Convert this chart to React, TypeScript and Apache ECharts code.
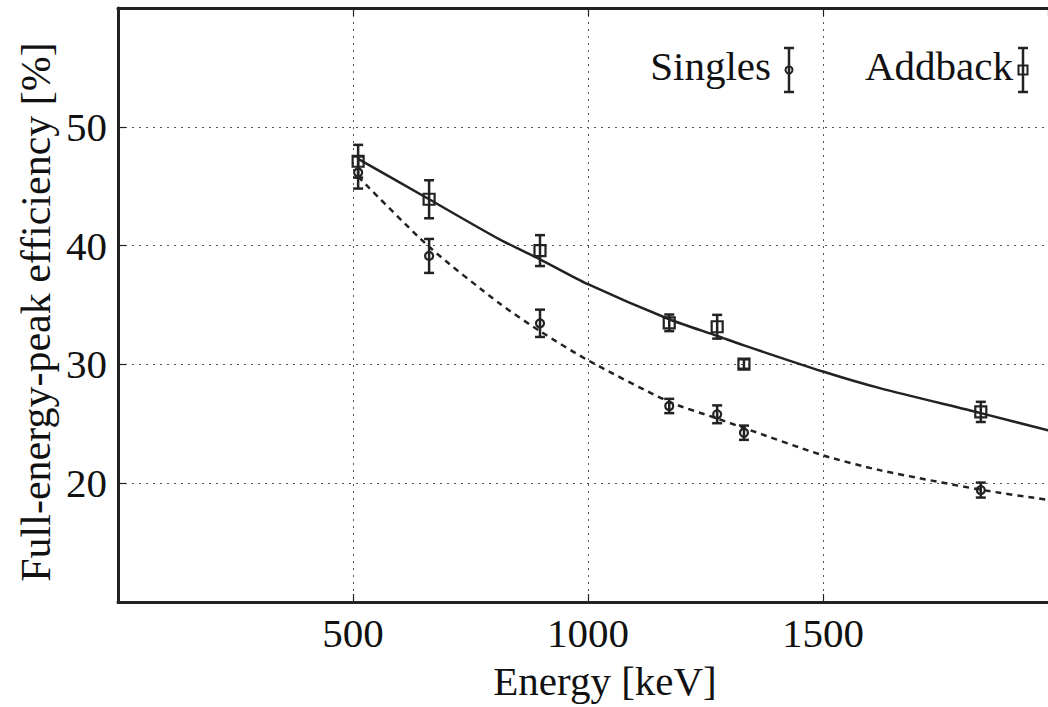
import React, { useEffect, useRef } from "react";
import * as echarts from "echarts";

const energies = [511, 662, 898, 1173, 1275, 1332, 1836];
const singlesEff = [46.15, 39.13, 33.46, 26.5, 25.8, 24.25, 19.42];
const singlesErr = [1.35, 1.43, 1.15, 0.6, 0.75, 0.6, 0.63];
const addbackEff = [47.1, 43.9, 39.58, 33.5, 33.17, 30.03, 26.0];
const addbackErr = [1.38, 1.6, 1.3, 0.7, 1.0, 0.4, 0.85];

const addbackFitE = [511, 662, 813, 898, 1000, 1173, 1275, 1332, 1500, 1621, 1836, 1979, 2000];
const addbackFit = [47.3, 43.9, 40.5, 38.85, 36.75, 33.8, 32.4, 31.6, 29.4, 28.0, 25.9, 24.45, 24.25];
const singlesFitE = [511, 662, 813, 898, 1000, 1173, 1275, 1332, 1500, 1621, 1836, 1979, 2000];
const singlesFit = [45.8, 39.9, 35.1, 32.8, 30.35, 26.85, 25.45, 24.65, 22.35, 21.1, 19.45, 18.6, 18.48];

const xTicks = { min: 0, max: 1979, interval: 500 };
const yTicks = { min: 10, max: 60, interval: 10 };

const xTitle = "Energy [keV]";
const yTitle = "Full-energy-peak efficiency [%]";

const FONT = "Liberation Serif";
const INK = "#222";

function errorItem(kind: "circle" | "square") {
  return (params: any, api: any) => {
    const x = api.value(0);
    const y = api.value(1);
    const e = api.value(2);
    const c = api.coord([x, y]);
    const t = api.coord([x, y + e]);
    const b = api.coord([x, y - e]);
    const hw = 5;
    const ls = { stroke: INK, lineWidth: 2.5, fill: "none" };
    const children: any[] = [
      { type: "line", shape: { x1: c[0], y1: t[1], x2: c[0], y2: b[1] }, style: ls },
      { type: "line", shape: { x1: c[0] - hw, y1: t[1], x2: c[0] + hw, y2: t[1] }, style: ls },
      { type: "line", shape: { x1: c[0] - hw, y1: b[1], x2: c[0] + hw, y2: b[1] }, style: ls },
    ];
    if (kind === "circle") {
      children.push({ type: "circle", shape: { cx: c[0], cy: c[1], r: 4 }, style: { stroke: INK, lineWidth: 2.2, fill: "rgba(0,0,0,0)" } });
    } else {
      children.push({ type: "rect", shape: { x: c[0] - 5.5, y: c[1] - 5.5, width: 11, height: 11 }, style: { stroke: INK, lineWidth: 2.2, fill: "rgba(0,0,0,0)" } });
    }
    return { type: "group", children };
  };
}

function legendMarker(x: number, kind: "circle" | "square") {
  const ls = { stroke: INK, lineWidth: 2.5 };
  const items: any[] = [
    { type: "line", shape: { x1: x, y1: 48, x2: x, y2: 92 }, style: ls },
    { type: "line", shape: { x1: x - 5, y1: 48, x2: x + 5, y2: 48 }, style: ls },
    { type: "line", shape: { x1: x - 5, y1: 92, x2: x + 5, y2: 92 }, style: ls },
  ];
  if (kind === "circle") {
    items.push({ type: "circle", shape: { cx: x, cy: 70, r: 3.5 }, style: { stroke: INK, lineWidth: 2, fill: "rgba(0,0,0,0)" } });
  } else {
    items.push({ type: "rect", shape: { x: x - 4.5, y: 65.5, width: 9, height: 9 }, style: { stroke: INK, lineWidth: 2, fill: "rgba(0,0,0,0)" } });
  }
  return items;
}

export default function App() {
  const ref = useRef<HTMLDivElement>(null);
  useEffect(() => {
    document.body.style.margin = "0";
    if (!ref.current) return;
    const chart = echarts.init(ref.current, undefined, { renderer: "svg" });
    const splitLine = { show: true, lineStyle: { color: "#555", type: [2, 5] as any, width: 1 } };
    const axisLine = { show: true, lineStyle: { color: INK, width: 3 } };
    const labelStyle = { fontSize: 41, fontFamily: FONT, color: "#111" };
    const tick = { show: true, inside: true, length: 8, lineStyle: { color: INK, width: 1.2 } };
    chart.setOption({
      animation: false,
      backgroundColor: "#fff",
      grid: { left: 118, top: 8, right: 0, bottom: 105, containLabel: false },
      xAxis: [
        {
          type: "value",
          ...xTicks,
          position: "bottom",
          axisLine,
          axisTick: tick,
          axisLabel: { ...labelStyle, margin: 10, showMinLabel: false, showMaxLabel: false, formatter: (v: number) => (v % 500 === 0 ? String(v) : "") },
          splitLine,
        },
        {
          type: "value",
          ...xTicks,
          position: "top",
          axisLine,
          axisTick: tick,
          axisLabel: { show: false },
          splitLine: { show: false },
        },
      ],
      yAxis: [
        {
          type: "value",
          ...yTicks,
          axisLine,
          axisTick: tick,
          axisLabel: { ...labelStyle, margin: 11, showMinLabel: false, showMaxLabel: false },
          splitLine,
        },
      ],
      series: [
        {
          name: "Addback fit",
          type: "line",
          data: addbackFitE.map((e, i) => [e, addbackFit[i]]),
          showSymbol: false,
          smooth: 0.25,
          lineStyle: { color: INK, width: 2.5, type: "solid" },
          z: 3,
        },
        {
          name: "Singles fit",
          type: "line",
          data: singlesFitE.map((e, i) => [e, singlesFit[i]]),
          showSymbol: false,
          smooth: 0.25,
          lineStyle: { color: INK, width: 2.5, type: [6, 5] as any },
          z: 3,
        },
        {
          name: "Singles",
          type: "custom",
          renderItem: errorItem("circle"),
          data: energies.map((e, i) => [e, singlesEff[i], singlesErr[i]]),
          encode: { x: 0, y: 1 },
          z: 4,
        },
        {
          name: "Addback",
          type: "custom",
          renderItem: errorItem("square"),
          data: energies.map((e, i) => [e, addbackEff[i], addbackErr[i]]),
          encode: { x: 0, y: 1 },
          z: 4,
        },
      ],
      graphic: [
        {
          type: "text",
          x: 605,
          y: 681,
          style: { text: xTitle, fontSize: 41, fontFamily: FONT, fill: "#111", align: "center", verticalAlign: "middle" },
        },
        {
          type: "text",
          x: 36,
          y: 312,
          rotation: Math.PI / 2,
          style: { text: yTitle, fontSize: 42, fontFamily: FONT, fill: "#111", align: "center", verticalAlign: "middle" },
        },
        {
          type: "text",
          x: 771,
          y: 66,
          style: { text: "Singles", fontSize: 41, fontFamily: FONT, fill: "#111", align: "right", verticalAlign: "middle" },
        },
        {
          type: "text",
          x: 1013,
          y: 66,
          style: { text: "Addback", fontSize: 41, fontFamily: FONT, fill: "#111", align: "right", verticalAlign: "middle" },
        },
        ...legendMarker(789, "circle"),
        ...legendMarker(1023, "square"),
      ],
    });
    return () => chart.dispose();
  }, []);
  return <div ref={ref} style={{ width: 1048, height: 707 }} />;
}
